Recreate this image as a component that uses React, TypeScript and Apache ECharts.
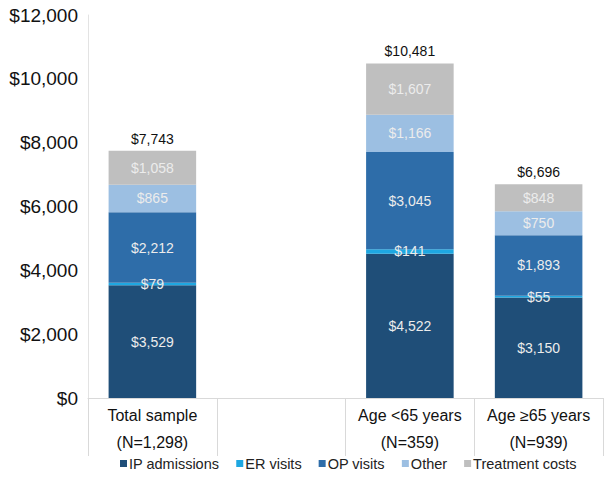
import React, { useEffect, useRef } from "react";
import * as echarts from "echarts";

const categories = ["Total sample\n(N=1,298)", "", "Age <65 years\n(N=359)", "Age ≥65 years\n(N=939)"];
const ipAdmissions = [3529, null, 4522, 3150];
const erVisits = [79, null, 141, 55];
const opVisits = [2212, null, 3045, 1893];
const other = [865, null, 1166, 750];
const treatmentCosts = [1058, null, 1607, 848];
const totals = [7743, null, 10481, 6696];
const yTicks = { min: 0, max: 12000, interval: 2000 };

const FONT = "'Liberation Sans', Arial, Helvetica, sans-serif";
const fmt = (v: number) => "$" + v.toLocaleString("en-US");

export default function App() {
  const ref = useRef<HTMLDivElement>(null);
  useEffect(() => {
    const chart = echarts.init(ref.current!, null, { renderer: "svg" });
    const innerLabel = {
      show: true,
      position: "inside" as const,
      color: "#ececec",
      fontSize: 14,
      fontFamily: FONT,
      formatter: (p: any) => fmt(p.value),
    };
    const mk = (name: string, data: any[], color: string) => ({
      name,
      type: "bar",
      stack: "s",
      data,
      barWidth: "68%",
      itemStyle: { color },
      label: innerLabel,
    });
    chart.setOption({
      animation: false,
      textStyle: { fontFamily: FONT },
      grid: { left: 88, right: 8, top: 15, bottom: 80, containLabel: false },
      legend: {
        bottom: 2,
        left: 115,
        itemWidth: 7,
        itemHeight: 7,
        itemGap: 17,
        icon: "rect",
        textStyle: { fontSize: 14.5, color: "#222", fontFamily: FONT, padding: [0, 0, 0, -3] },
        data: ["IP admissions", "ER visits", "OP visits", "Other", "Treatment costs"],
      },
      xAxis: {
        type: "category",
        data: categories,
        axisLine: { lineStyle: { color: "#d9d9d9", width: 1 } },
        axisTick: { show: true, interval: 0, length: 58, lineStyle: { color: "#d9d9d9" } },
        axisLabel: {
          interval: 0,
          fontSize: 16,
          color: "#111",
          lineHeight: 27,
          margin: 4,
          fontFamily: FONT,
        },
      },
      yAxis: {
        type: "value",
        min: yTicks.min,
        max: yTicks.max,
        interval: yTicks.interval,
        axisLine: { show: true, lineStyle: { color: "#e3e3e3" } },
        axisTick: { show: false },
        splitLine: { show: false },
        axisLabel: {
          fontSize: 19,
          color: "#111",
          margin: 10,
          fontFamily: FONT,
          formatter: (v: number) => fmt(v),
        },
      },
      series: [
        mk("IP admissions", ipAdmissions, "#1f4e78"),
        mk("ER visits", erVisits, "#1ea7e1"),
        mk("OP visits", opVisits, "#2e6da9"),
        mk("Other", other, "#9cbfe2"),
        mk("Treatment costs", treatmentCosts, "#bfbfbf"),
        {
          name: "Total",
          type: "bar",
          stack: "s",
          barWidth: "68%",
          data: totals.map((t) => (t == null ? null : 0)),
          itemStyle: { color: "transparent" },
          label: {
            show: true,
            position: "top",
            distance: 5,
            color: "#111",
            fontSize: 14,
            fontFamily: FONT,
            formatter: (p: any) => (totals[p.dataIndex] == null ? "" : fmt(totals[p.dataIndex] as number)),
          },
        },
      ],
    });
    return () => chart.dispose();
  }, []);
  return <div ref={ref} style={{ position: "absolute", left: 0, top: 0, width: 611, height: 478 }} />;
}
